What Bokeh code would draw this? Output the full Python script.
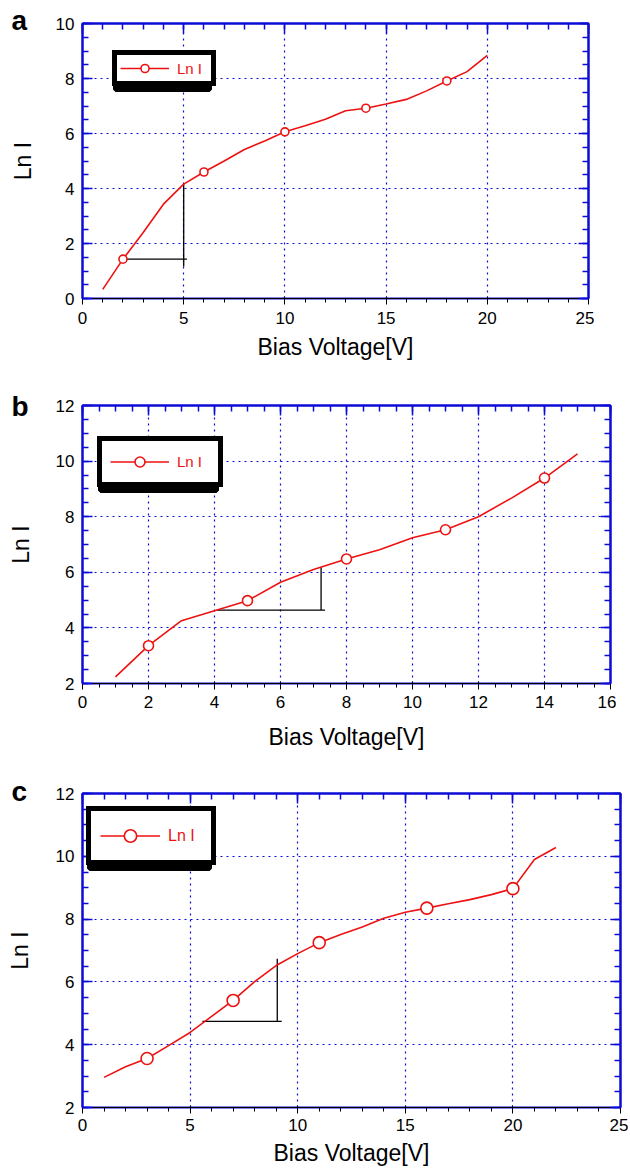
from bokeh.plotting import figure
from bokeh.models import (Range1d, SingleIntervalTicker, LinearAxis, Legend,
                          LegendItem, BoxAnnotation)
from bokeh.layouts import column
from bokeh.embed import file_html
from bokeh.resources import INLINE

# ---------------- data ----------------
# panel a
a_volt = [1, 2, 3, 4, 5, 6, 7, 8, 9, 10, 11, 12, 13, 14, 15, 16, 17, 18, 19, 20]
a_lnI = [0.33, 1.43, 2.40, 3.43, 4.16, 4.60, 5.00, 5.42, 5.73, 6.06,
         6.28, 6.52, 6.83, 6.92, 7.07, 7.24, 7.55, 7.91, 8.25, 8.84]
a_marker_idx = [1, 5, 9, 13, 17]
a_guide_h_x = [2.06, 5.16]
a_guide_h_y = [1.43, 1.43]
a_guide_v_x = [5.0, 5.0]
a_guide_v_y = [1.16, 4.18]

# panel b
b_volt = [1, 2, 3, 4, 5, 6, 7, 8, 9, 10, 11, 12, 13, 14, 15]
b_lnI = [2.24, 3.36, 4.26, 4.62, 4.98, 5.64, 6.10, 6.48, 6.81, 7.24,
         7.53, 8.00, 8.67, 9.39, 10.26]
b_marker_idx = [1, 4, 7, 10, 13]
b_guide_h_x = [4.07, 7.35]
b_guide_h_y = [4.64, 4.64]
b_guide_v_x = [7.23, 7.23]
b_guide_v_y = [4.64, 6.18]

# panel c
c_volt = [1, 2, 3, 4, 5, 6, 7, 8, 9, 10, 11, 12, 13, 14, 15, 16, 17, 18, 19, 20, 21, 22]
c_lnI = [2.96, 3.30, 3.56, 3.97, 4.39, 4.90, 5.41, 6.01, 6.52, 6.90, 7.25,
         7.51, 7.75, 8.03, 8.22, 8.35, 8.49, 8.62, 8.78, 8.97, 9.90, 10.28]
c_marker_idx = [2, 6, 10, 15, 19]
c_guide_h_x = [5.57, 9.26]
c_guide_h_y = [4.74, 4.74]
c_guide_v_x = [9.05, 9.05]
c_guide_v_y = [4.74, 6.74]

panel_letters = ["a", "b", "c"]
series_name = "Ln I"
x_title = "Bias Voltage[V]"
y_title = "Ln I"

BLUE = "#0c0cd6"
RED = "#ee1111"
FONT = "Liberation Sans"


def make_panel(letter, xs, ys, midx, hx, hy, vx, vy, xr, yr, xint, xminor, yint, yminor,
               fw, fh, top, bottom, right, msize, leg, tick_stand, lab_stand, ylab_stand,
               letter_standoff):
    p = figure(frame_width=fw, frame_height=fh, x_range=Range1d(*xr), y_range=Range1d(*yr),
               output_backend="svg", toolbar_location=None,
               min_border_left=82, min_border_right=right, min_border_top=top,
               min_border_bottom=bottom, x_axis_label=x_title, y_axis_label=y_title)
    # panel letter as the plot title, pulled left of and down over the frame corner
    p.title.text = letter
    p.title.align = "left"
    p.title.offset = -71
    p.title.vertical_align = "bottom"
    p.title.standoff = letter_standoff
    p.title.text_font = FONT
    p.title.text_font_size = "28px"
    p.title.text_font_style = "bold"
    p.title.text_color = "black"

    xt = SingleIntervalTicker(interval=xint, num_minor_ticks=xminor)
    yt = SingleIntervalTicker(interval=yint, num_minor_ticks=yminor)
    p.xaxis.ticker = xt
    p.yaxis.ticker = yt
    p.xgrid.ticker = xt
    p.ygrid.ticker = yt
    for ax in (p.xaxis[0], p.yaxis[0]):
        ax.axis_label_text_font = FONT
        ax.axis_label_text_font_size = "23px"
        ax.axis_label_text_font_style = "normal"
        ax.axis_label_text_color = "black"
        ax.major_label_text_font = FONT
        ax.major_label_text_font_size = "17px"
        ax.major_label_text_color = "black"
    p.xaxis[0].major_label_standoff = tick_stand
    p.xaxis[0].axis_label_standoff = lab_stand
    p.yaxis[0].major_label_standoff = 8
    p.yaxis[0].axis_label_standoff = ylab_stand
    top_ax = LinearAxis(ticker=xt, major_label_text_font_size="0px", major_label_standoff=0,
                        major_label_text_color=None, major_label_text_alpha=0)
    right_ax = LinearAxis(ticker=yt, major_label_text_font_size="0px", major_label_standoff=0,
                          major_label_text_color=None, major_label_text_alpha=0)
    p.add_layout(top_ax, "above")
    p.add_layout(right_ax, "right")
    for ax in (p.xaxis[0], p.yaxis[0], top_ax, right_ax):
        ax.axis_line_color = BLUE
        ax.axis_line_width = 2
        ax.major_tick_line_color = BLUE
        ax.minor_tick_line_color = BLUE
        ax.major_tick_line_width = 1.5
        ax.minor_tick_line_width = 1.5
        ax.major_tick_in = 10
        ax.major_tick_out = 0
        ax.minor_tick_in = 6
        ax.minor_tick_out = 0
    p.outline_line_color = BLUE
    p.outline_line_width = 2
    p.outline_line_alpha = 1
    for g in (p.xgrid[0], p.ygrid[0]):
        g.grid_line_color = BLUE
        g.grid_line_dash = "2 4"
        g.grid_line_width = 1.2
        g.grid_line_alpha = 1

    # guide (slope) lines
    p.line(hx, hy, line_color="black", line_width=1.3)
    p.line(vx, vy, line_color="black", line_width=1.3)

    lr = p.line(xs, ys, line_color=RED, line_width=1.6)
    mx = [xs[i] for i in midx]
    my = [ys[i] for i in midx]
    sr = p.scatter(mx, my, marker="circle", size=msize, line_color=RED, line_width=1.6,
                   fill_color="white")

    lx, ly, gw, gh, lw, pad, fs = leg
    w = 2 * pad + gw + 8 + lw
    h = 2 * pad + gh
    shadow = BoxAnnotation(left=lx + 3, right=lx + w + 3, bottom=ly - 3, top=ly + h - 3,
                           left_units="screen", right_units="screen",
                           bottom_units="screen", top_units="screen",
                           fill_color="black", fill_alpha=1, line_color="black",
                           line_width=5, line_alpha=1)
    p.add_layout(shadow)
    legend = Legend(items=[LegendItem(label=series_name, renderers=[lr, sr])],
                    location=(lx, ly), glyph_width=gw, glyph_height=gh,
                    label_width=lw, label_height=gh, label_standoff=8,
                    padding=pad, spacing=0, margin=0,
                    border_line_color="black", border_line_width=5, border_line_alpha=1,
                    background_fill_color="white", background_fill_alpha=1,
                    label_text_font=FONT, label_text_font_size=f"{fs}px",
                    label_text_color=RED)
    p.add_layout(legend)
    return p


# panel a: figure spans y 0..364, frame 23..298
pa = make_panel(panel_letters[0], a_volt, a_lnI, a_marker_idx, a_guide_h_x, a_guide_h_y,
                a_guide_v_x, a_guide_v_y, (0, 25), (0, 10), 5, 5, 2, 4,
                fw=506, fh=275, top=23, bottom=66, right=6, msize=8,
                leg=(30, 212, 49, 20, 31, 3, 15), tick_stand=7, lab_stand=7, ylab_stand=17,
                letter_standoff=-25)
# panel b: figure spans 364..753, frame 405..683
pb = make_panel(panel_letters[1], b_volt, b_lnI, b_marker_idx, b_guide_h_x, b_guide_h_y,
                b_guide_v_x, b_guide_v_y, (0, 16), (2, 12), 2, 4, 2, 4,
                fw=528, fh=278, top=41, bottom=70, right=6, msize=10,
                leg=(15, 196, 59, 25, 33, 8, 15), tick_stand=6, lab_stand=13, ylab_stand=19,
                letter_standoff=-32)
# panel c: figure spans 753..1168, frame 793..1107
pc = make_panel(panel_letters[2], c_volt, c_lnI, c_marker_idx, c_guide_h_x, c_guide_h_y,
                c_guide_v_x, c_guide_v_y, (0, 25), (2, 12), 5, 5, 2, 4,
                fw=538, fh=314, top=40, bottom=61, right=8, msize=12,
                leg=(4, 242, 60, 31, 34, 9, 16), tick_stand=5, lab_stand=6, ylab_stand=20,
                letter_standoff=-26)

layout = column(pa, pb, pc, spacing=0)
open("out.html", "w").write(file_html(layout, INLINE))
